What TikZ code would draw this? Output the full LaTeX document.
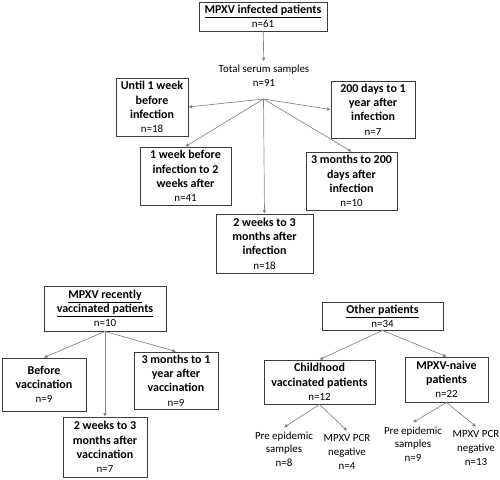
\documentclass[tikz,border=0pt]{standalone}
\usepackage{fontspec}
\setmainfont{Carlito}
\usetikzlibrary{arrows.meta}

\tikzset{
  box/.style={draw=boxgrey, line width=0.7pt, align=center, inner sep=1pt, font=\fontsize{9}{10.7}\selectfont\bfseries},
  sz/.style 2 args={minimum width=#1*0.75pt, minimum height=#2*0.75pt},
  plain/.style={align=center, inner sep=3pt, font=\fontsize{8.2}{10.2}\selectfont},
  link/.style={draw=linkgrey, line width=0.5pt, -{Triangle[length=2.6pt,width=2.4pt]}}
}
\newcommand{\nval}[1]{{\fontsize{8.2}{10.7}\selectfont\mdseries n=#1}}

\begin{document}
\begin{tikzpicture}[x=0.75pt,y=-0.75pt]
	\definecolor{boxgrey}{HTML}{3C3C3C}
	\definecolor{linkgrey}{HTML}{858585}
	\useasboundingbox (0,0) rectangle (500,479);

	% infected patients
	\node[box,sz={128}{29}] (inf) at (263,16.5) {\underline{MPXV infected patients}\\\nval{61}};
	\node[plain] (total) at (264,76) {Total serum samples\\n=91};
	\coordinate (fan) at (263.5,99);
	\node[box,sz={72}{58}] (until) at (152,107) {Until 1 week\\before\\infection\\\nval{18}};
	\node[box,sz={84}{57}] (dlate) at (373,109.5) {200 days to 1\\year after\\infection\\\nval{7}};
	\node[box,sz={91}{58}] (wkone) at (185.5,176) {1 week before\\infection to 2\\weeks after\\\nval{41}};
	\node[box,sz={91}{58}] (mthree) at (351.5,181) {3 months to 200\\days after\\infection\\\nval{10}};
	\node[box,sz={97}{59}] (wktwo) at (264.5,243.5) {2 weeks to 3\\months after\\infection\\\nval{18}};

	\draw[link] (inf) -- (total);
	\draw[link] (fan) -- (until.east);
	\draw[link] (fan) -- (dlate.west);
	\draw[link] (fan) -- (wkone.north);
	\draw[link] (fan) -- (mthree.north);
	\draw[link] (fan) -- (wktwo.north);

	% recently vaccinated
	\node[box,sz={122}{45}] (vac) at (105,308.5) {\underline{MPXV recently}\\\underline{vaccinated patients}\\\nval{10}};
	\node[box,sz={84}{53}] (before) at (44,384.5) {Before\\vaccination\\\nval{9}};
	\node[box,sz={84}{57}] (vmthree) at (176,380.5) {3 months to 1\\year after\\vaccination\\\nval{9}};
	\node[box,sz={84}{60}] (vwktwo) at (105,447) {2 weeks to 3\\months after\\vaccination\\\nval{7}};

	\draw[link] (vac.south) -- (before.north);
	\draw[link] (vac.south) -- (vmthree.north);
	\draw[link] (vac.south) -- (vwktwo.north);

	% other patients
	\node[box,sz={121}{28}] (other) at (382.5,316) {\underline{Other patients}\\\nval{34}};
	\node[box,sz={111}{44}] (child) at (319.5,382) {Childhood\\vaccinated patients\\\nval{12}};
	\node[box,sz={83}{45}] (naive) at (446.5,379.5) {MPXV-naive\\patients\\\nval{22}};
	\node[plain] (preone) at (284,449) {Pre epidemic\\samples\\n=8};
	\node[plain] (pcrone) at (347,452) {MPXV PCR\\negative\\n=4};
	\node[plain] (pretwo) at (413,444) {Pre epidemic\\samples\\n=9};
	\node[plain] (pcrtwo) at (476,448) {MPXV PCR\\negative\\n=13};

	\draw[link] (other.south) -- (child.north);
	\draw[link] (other.south) -- (naive.north);
	\draw[link] (child.south) -- (preone.north);
	\draw[link] (child.south) -- (pcrone.north);
	\draw[link] (naive.south) -- (pretwo.north);
	\draw[link] (naive.south) -- (pcrtwo.north);
\end{tikzpicture}
\end{document}
